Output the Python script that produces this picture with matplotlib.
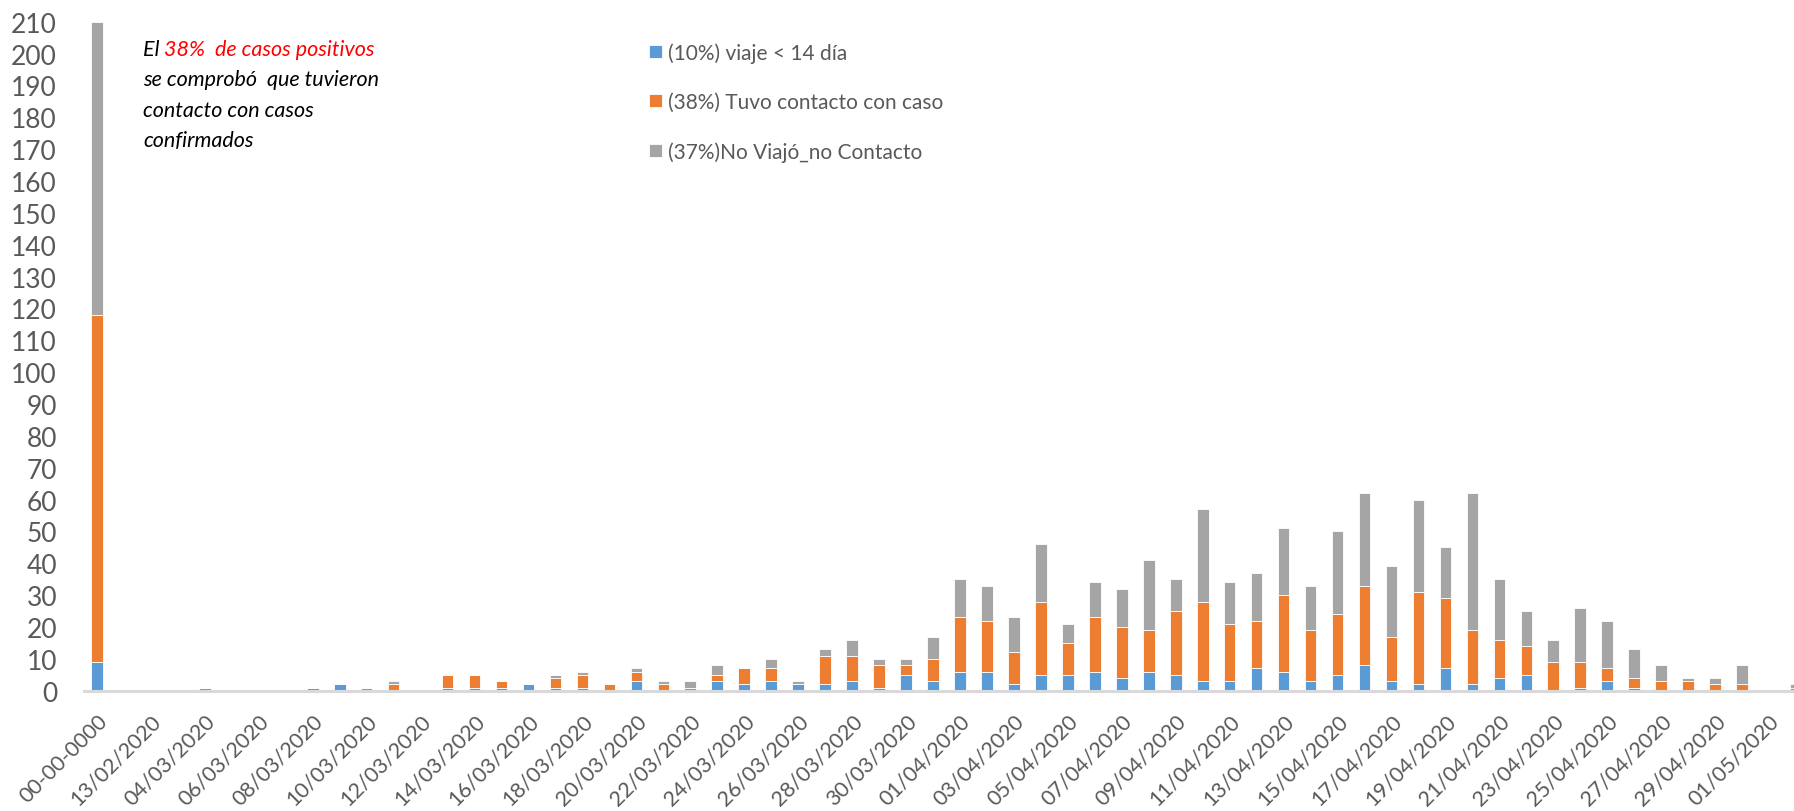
import numpy as np
import matplotlib.pyplot as plt

plt.rcParams['font.family'] = ['Lato', 'DejaVu Sans']

fechas = ['00-00-0000', '12/02/2020', '13/02/2020', '03/03/2020',
          '04/03/2020', '05/03/2020', '06/03/2020', '07/03/2020', '08/03/2020', '09/03/2020',
          '10/03/2020', '11/03/2020', '12/03/2020', '13/03/2020', '14/03/2020', '15/03/2020',
          '16/03/2020', '17/03/2020', '18/03/2020', '19/03/2020', '20/03/2020', '21/03/2020',
          '22/03/2020', '23/03/2020', '24/03/2020', '25/03/2020', '26/03/2020', '27/03/2020',
          '28/03/2020', '29/03/2020', '30/03/2020', '31/03/2020', '01/04/2020', '02/04/2020',
          '03/04/2020', '04/04/2020', '05/04/2020', '06/04/2020', '07/04/2020', '08/04/2020',
          '09/04/2020', '10/04/2020', '11/04/2020', '12/04/2020', '13/04/2020', '14/04/2020',
          '15/04/2020', '16/04/2020', '17/04/2020', '18/04/2020', '19/04/2020', '20/04/2020',
          '21/04/2020', '22/04/2020', '23/04/2020', '24/04/2020', '25/04/2020', '26/04/2020',
          '27/04/2020', '28/04/2020', '29/04/2020', '30/04/2020', '01/05/2020', '02/05/2020']

viaje = [9, 0, 0, 0, 0, 0, 0, 0, 1, 2,
         0, 0, 0, 1, 1, 1, 2, 1, 1, 0,
         3, 0, 0, 3, 2, 3, 2, 2, 3, 1,
         5, 3, 6, 6, 2, 5, 5, 6, 4, 6,
         5, 3, 3, 7, 6, 3, 5, 8, 3, 2,
         7, 2, 4, 5, 0, 1, 3, 1, 0, 0,
         0, 0, 0, 0]
contacto = [109, 0, 0, 0, 1, 0, 0, 0, 0, 0,
            1, 2, 0, 4, 4, 2, 0, 3, 4, 2,
            3, 2, 1, 2, 5, 4, 0, 9, 8, 7,
            3, 7, 17, 16, 10, 23, 10, 17, 16, 13,
            20, 25, 18, 15, 24, 16, 19, 25, 14, 29,
            22, 17, 12, 9, 9, 8, 4, 3, 3, 3,
            2, 2, 0, 1]
no_contacto = [92, 0, 0, 0, 0, 0, 0, 0, 0, 0,
               0, 1, 0, 0, 0, 0, 0, 1, 1, 0,
               1, 1, 2, 3, 0, 3, 1, 2, 5, 2,
               2, 7, 12, 11, 11, 18, 6, 11, 12, 22,
               10, 29, 13, 15, 21, 14, 26, 29, 22, 29,
               16, 43, 19, 11, 7, 17, 15, 9, 5, 1,
               2, 6, 0, 1]

series = ['(10%) viaje < 14 día', '(38%) Tuvo contacto con caso', '(37%)No Viajó_no Contacto']
colores = ['#5B9BD5', '#ED7D31', '#A5A5A5']

fig = plt.figure(figsize=(17.94, 8.12), dpi=100)
# plot area runs past the right edge of the picture, like the original crop
ax = fig.add_axes([83.5 / 1794, 120.3 / 812, 1726 / 1794, 669 / 812])

x = np.arange(len(fechas))
v = np.array(viaje)
c = np.array(contacto)
n = np.array(no_contacto)
w = 0.43
ax.bar(x, v, w, color=colores[0], edgecolor='white', linewidth=0.6, label=series[0])
ax.bar(x, c, w, bottom=v, color=colores[1], edgecolor='white', linewidth=0.6, label=series[1])
ax.bar(x, n, w, bottom=v + c, color=colores[2], edgecolor='white', linewidth=0.6, label=series[2])

ax.set_xlim(-0.5, len(fechas) - 0.5)
ax.set_ylim(0, 210)
ax.set_yticks(range(0, 211, 10))
ax.tick_params(axis='y', length=0, pad=19, labelsize=19, labelcolor='#595959')
ax.set_xticks(x[::2])
ax.set_xticklabels(fechas[::2], rotation=45, ha='right', rotation_mode='anchor',
                   fontsize=15.5, color='#595959')
ax.tick_params(axis='x', length=0, pad=14)
for s in ['top', 'right', 'left']:
    ax.spines[s].set_visible(False)
ax.spines['bottom'].set_color('#D9D9D9')
ax.spines['bottom'].set_linewidth(2.2)

ax.legend(loc='upper left', bbox_to_anchor=(639 / 1794, 1 - 33 / 812),
          bbox_transform=fig.transFigure, frameon=False, fontsize=15,
          handlelength=0.6, handleheight=0.6, handletextpad=0.3,
          labelspacing=1.4, borderpad=0, labelcolor='#595959')

# nota en cursiva
t1 = fig.text(143 / 1794, 1 - 50 / 812, 'El ', fontsize=15.5, style='italic',
              color='black', va='center')
ax.annotate('38%  de casos positivos', xy=(1, 0), xycoords=t1, va='bottom',
            fontsize=15.5, style='italic', color='red')
notas = ['se comprobó  que tuvieron', 'contacto con casos', 'confirmados']
for i, linea in enumerate(notas):
    fig.text(143 / 1794, 1 - (80.5 + 30.5 * i) / 812, linea, fontsize=15.5,
             style='italic', color='black', va='center')

fig.savefig('out.png', dpi=100)
